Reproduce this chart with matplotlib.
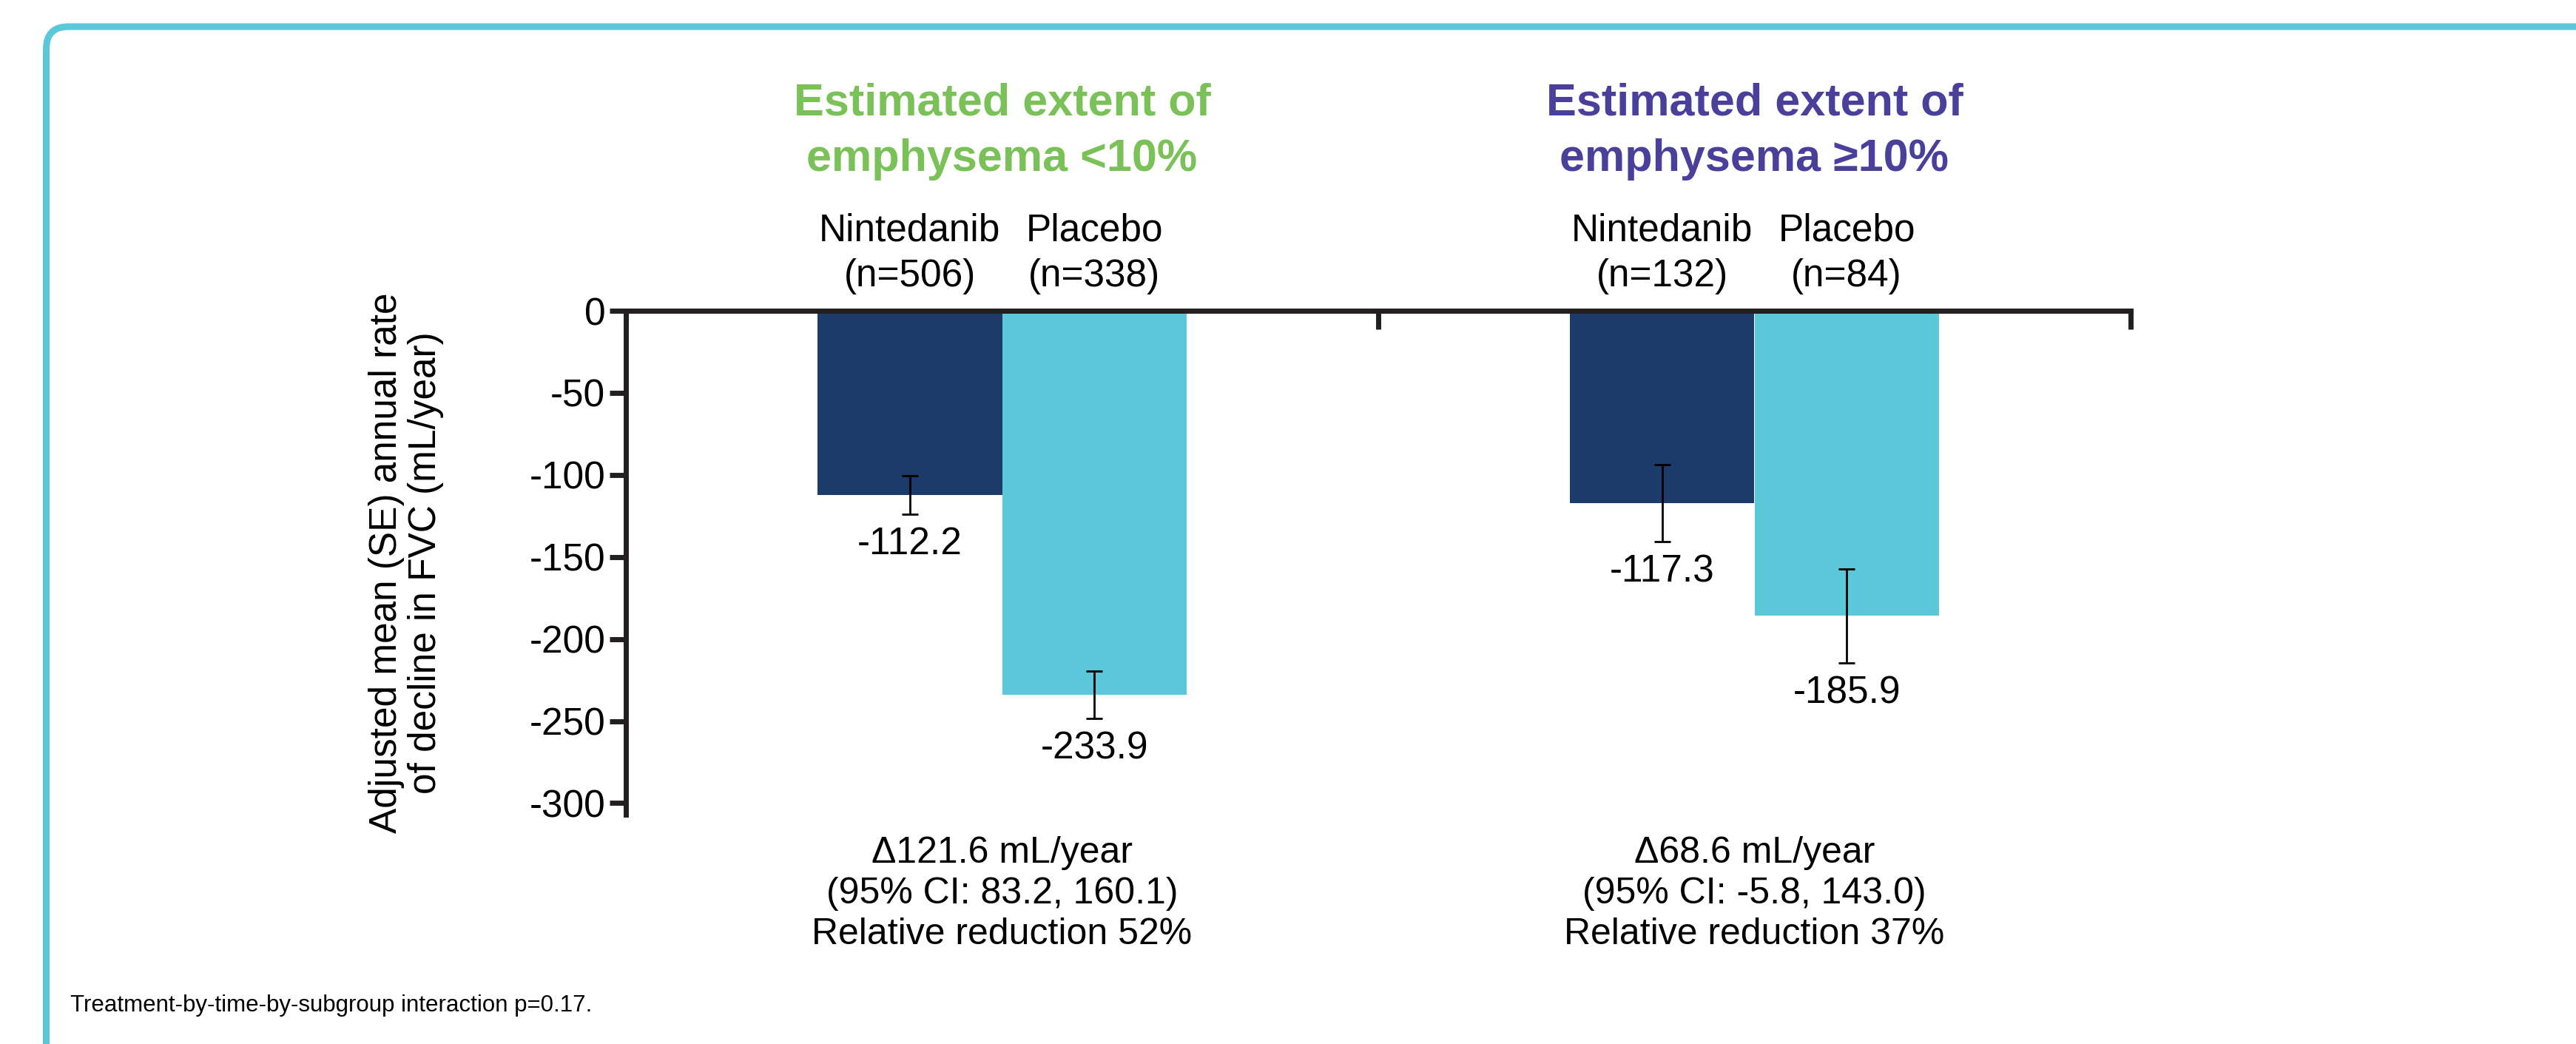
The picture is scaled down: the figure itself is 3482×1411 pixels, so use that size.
import matplotlib
matplotlib.use("Agg")
import matplotlib.pyplot as plt
from matplotlib.patches import FancyBboxPatch

plt.rcParams["font.family"] = ["Liberation Sans", "DejaVu Sans"]

# subgroups and treatment arms
subgroups = ["Estimated extent of\nemphysema <10%", "Estimated extent of\nemphysema \u226510%"]
subgroup_colors = ["#7AC158", "#4A3F9B"]
arms = ["Nintedanib", "Placebo"]
arm_colors = ["#1B3B6B", "#5BC8D9"]
n_patients = [[506, 338], [132, 84]]

# adjusted mean annual rate of decline (mL/year) and SE
means = [[-112.2, -233.9], [-117.3, -185.9]]
se = [[11.6, 14.3], [23.5, 28.6]]

diff_text = [
    "\u0394121.6 mL/year\n(95% CI: 83.2, 160.1)\nRelative reduction 52%",
    "\u039468.6 mL/year\n(95% CI: -5.8, 143.0)\nRelative reduction 37%",
]
yticks = [0, -50, -100, -150, -200, -250, -300]
footnote = "Treatment-by-time-by-subgroup interaction p=0.17."

W, H = 3482, 1411
fig = plt.figure(figsize=(W / 100, H / 100), dpi=100)

# rounded frame behind everything, drawn in pixel units
bg = fig.add_axes([0, 0, 1, 1], zorder=0)
bg.set_xlim(0, W)
bg.set_ylim(H, 0)
bg.axis("off")
frame = FancyBboxPatch((62.5, 36), 4000, 2000, boxstyle="round,pad=0,rounding_size=30",
                       facecolor="none", edgecolor="#5BC8D9", linewidth=6.5)
bg.add_patch(frame)

ax = fig.add_axes([846 / W, 1 - 1101 / H, (2880 - 846) / W, (1101 - 420) / H], zorder=1)
ax.set_facecolor("none")

bw = 0.245
for g in range(len(subgroups)):
    for a in range(len(arms)):
        x = g + (a - 0.5) * bw
        ax.bar(x, means[g][a], width=bw, color=arm_colors[a], zorder=2)
        ax.errorbar(x, means[g][a], yerr=se[g][a], color="black", linewidth=2,
                    capsize=8, capthick=2, zorder=3)
        ax.annotate(f"{means[g][a]:.1f}", (x, means[g][a] - se[g][a]),
                    xytext=(0, -12), textcoords="offset points",
                    ha="center", va="top", fontsize=37)
        ax.annotate(f"{arms[a]}\n(n={n_patients[g][a]})", (x, 0),
                    xytext=(0, 16), textcoords="offset points",
                    ha="center", va="bottom", fontsize=37, linespacing=1.33,
                    annotation_clip=False)
    ax.annotate(subgroups[g], (g, 1 - 178 / H), xycoords=("data", "figure fraction"),
                ha="center", va="center", fontsize=44, fontweight="bold",
                color=subgroup_colors[g], linespacing=1.42)
    ax.annotate(diff_text[g], (g, 1 - 1208 / H), xycoords=("data", "figure fraction"),
                ha="center", va="center", fontsize=36, linespacing=1.25)

ax.set_xlim(-0.5, 1.5)
ax.set_ylim(-307, 0)
ax.set_yticks(yticks)
ax.set_yticklabels([str(t) for t in yticks])
ax.xaxis.tick_top()
ax.set_xticks([-0.5, 0.5, 1.5])
ax.set_xticklabels([])
ax.tick_params(axis="x", direction="in", length=18, width=5, color="#231F20")
ax.tick_params(axis="y", direction="out", length=16, width=5, color="#231F20",
               labelsize=37, pad=4)
for side in ["right", "bottom"]:
    ax.spines[side].set_visible(False)
for side in ["left", "top"]:
    ax.spines[side].set_linewidth(5)
    ax.spines[side].set_color("#231F20")
ax.spines["top"].set_zorder(4)

ax.text(-0.146, 0.5, "Adjusted mean (SE) annual rate\nof decline in FVC (mL/year)",
        transform=ax.transAxes, rotation=90, ha="center", va="center",
        fontsize=37, linespacing=1.1)

fig.text(95 / W, 1 - 1359 / H, footnote, ha="left", va="center", fontsize=22.5)

fig.savefig("out.png", dpi=100, facecolor="white")
